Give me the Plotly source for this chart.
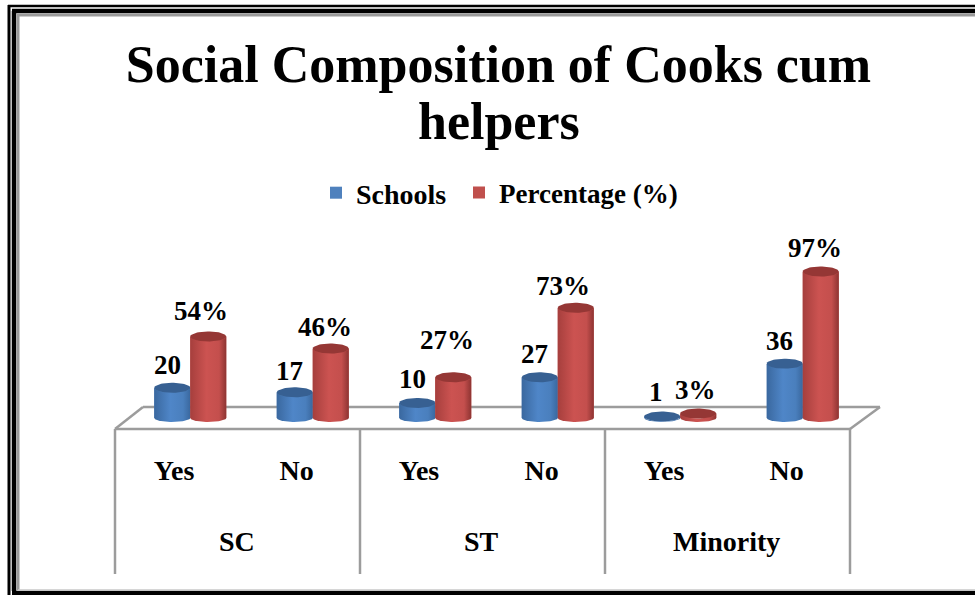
import numpy as np
import plotly.graph_objects as go

W, H = 975, 595

# ---- data ----
groups = ["SC", "ST", "Minority"]
answers = ["Yes", "No", "Yes", "No", "Yes", "No"]
schools = [20, 17, 10, 27, 1, 36]
percentage = [54, 46, 27, 73, 3, 97]
title_line_1 = "Social Composition of Cooks cum"
title_line_2 = "helpers"

# ---- layout helpers (pixel -> paper) ----
def px(x):
    return x / W

def py(y):
    return 1 - y / H

PLOT_L, PLOT_R = 115, 850
FLOOR_Y = 429
TOP_Y = 235
ZERO_Y = 418
PX_PER_UNIT = 1.51
y_min = (ZERO_Y - FLOOR_Y) / PX_PER_UNIT
y_max = (ZERO_Y - TOP_Y) / PX_PER_UNIT

X_UNIT = (PLOT_R - PLOT_L) / 6
BAR_W = 36 / X_UNIT
DEPTH = 14 / X_UNIT
RX = BAR_W / 2
RY = 5 / PX_PER_UNIT

xs = np.arange(len(answers))
bar_x = xs + DEPTH

FONT = "Liberation Serif"
BLUE, RED = "#4f81bd", "#c0504d"
BLUE_TOP, RED_TOP = "#376092", "#953735"
BLUE_GRAD = [[0, "#3a689f"], [0.45, "#4f86c8"], [0.8, "#4a7fbd"], [1, "#3a689f"]]
RED_GRAD = [[0, "#a63f3d"], [0.45, "#cc5351"], [0.8, "#c44f4d"], [1, "#8e3432"]]

fig = go.Figure()

fig.add_trace(go.Bar(name="<b>Schools</b>", x=bar_x, y=schools, width=BAR_W, offset=-BAR_W,
                     marker=dict(color=BLUE, line_width=0), hoverinfo="x+y", legend="legend"))
fig.add_trace(go.Bar(name="<b>Percentage (%)</b>", x=bar_x, y=percentage, width=BAR_W, offset=0,
                     marker=dict(color=RED, line_width=0), hoverinfo="x+y", legend="legend2"))

t = np.linspace(0, np.pi, 40)

def cylinder(left, value, grad, top):
    cx = left + RX
    bx = cx - RX * np.cos(t)
    by = -RY * 0.8 * np.sin(t)
    tx = cx + RX * np.cos(t)
    ty = value - RY * np.sin(t)
    fig.add_trace(go.Scatter(x=np.r_[bx, tx], y=np.r_[by, ty], mode="lines", line_width=0,
                             fill="toself", showlegend=False, hoverinfo="skip",
                             fillgradient=dict(type="horizontal", colorscale=grad)))
    a = np.linspace(0, 2 * np.pi, 60)
    fig.add_trace(go.Scatter(x=cx + RX * np.cos(a), y=value + RY * np.sin(a),
                             mode="lines", line_width=0, fill="toself", fillcolor=top,
                             showlegend=False, hoverinfo="skip"))

for i in range(len(answers)):
    cylinder(bar_x[i] - BAR_W, schools[i], BLUE_GRAD, BLUE_TOP)
    cylinder(bar_x[i], percentage[i], RED_GRAD, RED_TOP)

# ---- data labels (value text, with per-label pixel nudges as in the original) ----
school_nudge = [(-5, 23), (-5, 21), (-5, 24), (-5, 23), (-6, 24), (-5, 23)]
pct_nudge = [(-7, 25), (-6, 22), (-6, 37), (-13, 22), (-3, 23), (-6, 24)]
annotations = []
for i in range(len(answers)):
    annotations.append(dict(x=bar_x[i] - BAR_W / 2, y=schools[i], xref="x", yref="y",
                            text=f"<b>{schools[i]}</b>", showarrow=False,
                            xshift=school_nudge[i][0], yshift=school_nudge[i][1],
                            font=dict(family=FONT, size=27, color="black")))
    annotations.append(dict(x=bar_x[i] + BAR_W / 2, y=percentage[i], xref="x", yref="y",
                            text=f"<b>{percentage[i]}%</b>", showarrow=False,
                            xshift=pct_nudge[i][0], yshift=pct_nudge[i][1],
                            font=dict(family=FONT, size=27, color="black")))
for g, name in enumerate(groups):
    annotations.append(dict(x=2 * g + 0.5, y=py(541), xref="x", yref="paper", yanchor="middle",
                            xshift=-1, text=f"<b>{name}</b>",
                            showarrow=False, font=dict(family=FONT, size=28, color="black")))
annotations.append(dict(x=498.5 / W, y=py(122), xref="paper", yref="paper", xanchor="center", yanchor="middle",
                        text=f"<b>{title_line_2}</b>", showarrow=False,
                        font=dict(family=FONT, size=52, color="black")))

# ---- floor, dividers and page frame ----
GRID = "#9c9c9c"
shapes = []
def line(x0, y0, x1, y1, color=GRID, width=2.5):
    shapes.append(dict(type="line", xref="paper", yref="paper", x0=px(x0), y0=py(y0), x1=px(x1), y1=py(y1),
                       line=dict(color=color, width=width), layer="below"))

line(115, 429, 850, 429)
line(143, 407, 880, 407)
line(115, 429, 143, 407)
line(850, 429, 880, 407)
for dx in (115, 360, 605, 850):
    line(dx, 429, dx, 574)

line(9, 5, 9, 595, "black", 3)
line(8, 6, 975, 6, "black", 2.5)
line(14, 11, 14, 591, "black", 4.5)
line(12, 11, 975, 11, "black", 4.5)
line(18, 14, 18, 590, "#9a9a9a", 3)
line(17, 15, 975, 15, "#9a9a9a", 3)
line(12, 593, 975, 593, "black", 4.5)
line(18, 590, 975, 590, "#c8c8c8", 1.5)

fig.update_layout(
    width=W, height=H,
    margin=dict(l=0, r=0, t=0, b=0),
    paper_bgcolor="white", plot_bgcolor="rgba(0,0,0,0)",
    barmode="overlay",
    title=dict(text=f"<b>{title_line_1}</b>", x=498.5 / W, xanchor="center", y=py(64), yanchor="middle",
               font=dict(family=FONT, size=52, color="black")),
    xaxis=dict(domain=[px(PLOT_L), px(PLOT_R)], range=[-0.5, 5.5], tickmode="array",
               tickvals=list(xs - 0.018), ticktext=[f"<b>{a}</b>" for a in answers],
               ticks="outside", ticklen=16, tickcolor="rgba(0,0,0,0)",
               tickfont=dict(family=FONT, size=28, color="black"),
               showgrid=False, zeroline=False, showline=False, fixedrange=True),
    yaxis=dict(domain=[py(FLOOR_Y), py(TOP_Y)], range=[y_min, y_max], visible=False, fixedrange=True),
    legend=dict(orientation="h", x=316 / W, xanchor="left", y=py(193), yanchor="middle",
                font=dict(family=FONT, size=28, color="black"), bgcolor="rgba(0,0,0,0)"),
    legend2=dict(orientation="h", x=459 / W, xanchor="left", y=py(193), yanchor="middle",
                 font=dict(family=FONT, size=27, color="black"), bgcolor="rgba(0,0,0,0)"),
    showlegend=True,
    annotations=annotations,
    shapes=shapes,
)

fig.write_html("out.html", config=dict(displayModeBar=False),
               post_script="document.body.style.margin='0';document.body.style.overflow='hidden';")
